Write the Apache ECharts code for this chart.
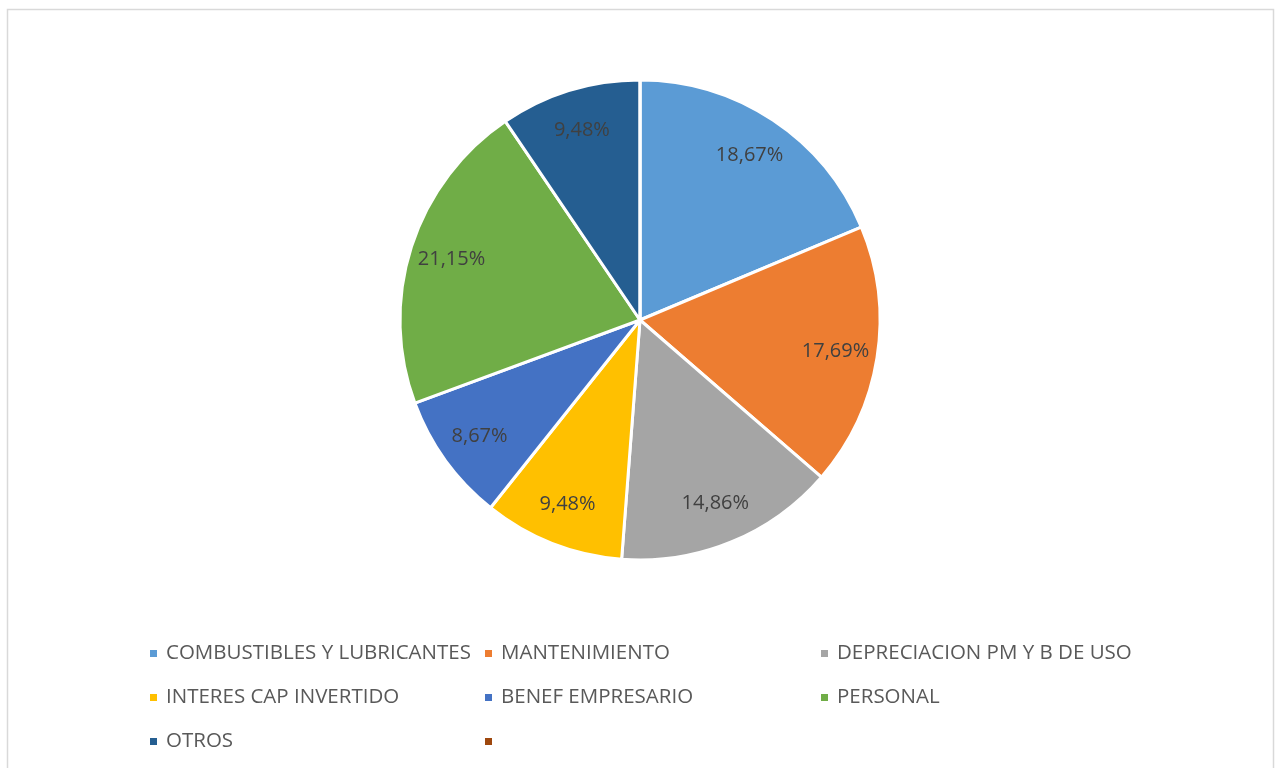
<!DOCTYPE html>
<html><head><meta charset="utf-8">
<script src="https://cdn.jsdelivr.net/npm/echarts@6/dist/echarts.min.js"></script>
<style>html,body{margin:0;padding:0;background:#fff}#c{width:1282px;height:768px}</style>
</head><body><div id="c"></div>
<script>
const categories = ['COMBUSTIBLES Y LUBRICANTES','MANTENIMIENTO','DEPRECIACION PM Y B DE USO','INTERES CAP INVERTIDO','BENEF EMPRESARIO','PERSONAL','OTROS',' '];
const values = [18.67, 17.69, 14.86, 9.48, 8.67, 21.15, 9.48, 0];
const colors = ['#5B9BD5','#ED7D31','#A5A5A5','#FFC000','#4472C4','#70AD47','#255E91','#9E480E'];
const labels = ['18,67%','17,69%','14,86%','9,48%','8,67%','21,15%','9,48%',''];

const chart = echarts.init(document.getElementById('c'));
const legendPos = [[148,643],[483,643],[819,643],[148,687],[483,687],[819,687],[148,731],[483,731]];
const legends = categories.map((n,i)=>({
  data:[n], left:legendPos[i][0], top:legendPos[i][1], itemWidth:9, itemHeight:9, icon:'rect',
  selectedMode:false, padding:0,
  textStyle:{fontFamily:'Open Sans', fontSize:20.5, color:'#595959', padding:[0,0,0,3]}
}));
const data = categories.map((n,i)=>({name:n, value:values[i], itemStyle:{color:colors[i]}}));
const labelData = categories.map((n,i)=>({name:n, value:values[i], label:{show: values[i]>0, formatter: labels[i]}}));
chart.setOption({
  animation:false,
  color: colors,
  graphic:[{type:'rect', shape:{x:7.5,y:9.5,width:1266,height:800}, style:{fill:'none', stroke:'#d9d9d9', lineWidth:1.5}, silent:true}],
  legend: legends,
  series:[
    {type:'pie', center:[640,320], radius:[0,240], startAngle:90, clockwise:true, label:{show:false}, labelLine:{show:false},
     itemStyle:{borderColor:'#fff', borderWidth:3}, emphasis:{disabled:true}, data:data, silent:true},
    {type:'pie', center:[640,320], radius:[150,240], startAngle:90, clockwise:true, silent:true,
     itemStyle:{color:'rgba(0,0,0,0)', borderWidth:0}, emphasis:{disabled:true}, labelLine:{show:false},
     label:{position:'inside', fontFamily:'Open Sans', fontSize:20, color:'#404040'}, data:labelData}
  ]
});
</script></body></html>
